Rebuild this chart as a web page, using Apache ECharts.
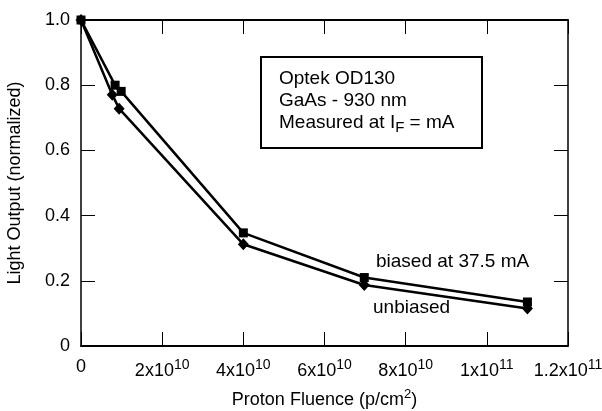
<!DOCTYPE html>
<html>
<head>
<meta charset="utf-8">
<script src="https://cdn.jsdelivr.net/npm/echarts@6/dist/echarts.min.js"></script>
<style>
html, body { margin: 0; padding: 0; background: #fff; }
#chart { width: 602px; height: 411px; }
</style>
</head>
<body>
<div id="chart"></div>
<script>
// tick values and labels
var xTicks = [0, 2e10, 4e10, 6e10, 8e10, 1e11, 1.2e11];
var xTickLabels = ['0', '2x10^10', '4x10^10', '6x10^10', '8x10^10', '1x10^11', '1.2x10^11'];
var yTicks = [0, 0.2, 0.4, 0.6, 0.8, 1.0];
var yTickLabels = ['0', '0.2', '0.4', '0.6', '0.8', '1.0'];

// biased at 37.5 mA (squares)
var biasedFluence = [0, 8.4e9, 9.9e9, 4.0e10, 6.98e10, 1.1e11];
var biasedOutput = [1.0, 0.80, 0.781, 0.347, 0.210, 0.135];
// unbiased (diamonds)
var unbiasedFluence = [0, 7.7e9, 9.4e9, 4.0e10, 6.98e10, 1.1e11];
var unbiasedOutput = [1.0, 0.771, 0.728, 0.312, 0.187, 0.115];

var FONT = 'Liberation Sans, Arial, sans-serif';

function pairs(xs, ys) {
    var out = [];
    for (var i = 0; i < xs.length; i++) {
        out.push([xs[i], ys[i]]);
    }
    return out;
}

function xLabel(value) {
    var idx = xTicks.indexOf(value);
    if (idx < 0) return '';
    var parts = xTickLabels[idx].split('^');
    if (parts.length < 2) return parts[0];
    return parts[0] + '{sup|' + parts[1] + '}';
}

function yLabel(value) {
    for (var i = 0; i < yTicks.length; i++) {
        if (Math.abs(yTicks[i] - value) < 1e-9) return yTickLabels[i];
    }
    return '';
}

var dom = document.getElementById('chart');
var chart = echarts.init(dom, null, { renderer: 'canvas' });

var option = {
    backgroundColor: '#fff',
    animation: false,
    textStyle: { fontFamily: FONT, color: '#000' },
    grid: {
        left: 81,
        right: 34,
        top: 20,
        bottom: 65,
        containLabel: false,
        outerBoundsMode: 'none'
    },
    xAxis: [{
            type: 'value',
            position: 'bottom',
            min: 0,
            max: 1.2e11,
            interval: 2e10,
            name: 'Proton Fluence (p/cm{sup|2})',
            nameLocation: 'middle',
            nameGap: 42,
            nameTextStyle: {
                fontSize: 18,
                color: '#000',
                fontFamily: FONT,
                rich: {
                    sup: { fontSize: 13, padding: [0, 0, 12, 0], fontFamily: FONT, color: '#000' }
                }
            },
            axisLine: { show: true, onZero: false, lineStyle: { color: '#000', width: 2 } },
            axisTick: { show: true, inside: true, length: 14, lineStyle: { color: '#000', width: 1 } },
            axisLabel: {
                margin: 12,
                fontSize: 18,
                color: '#000',
                fontFamily: FONT,
                formatter: xLabel,
                rich: {
                    sup: { fontSize: 14, padding: [0, 0, 12, 0], fontFamily: FONT, color: '#000' }
                }
            },
            splitLine: { show: false }
        },
        {
            type: 'value',
            position: 'top',
            min: 0,
            max: 1.2e11,
            interval: 2e10,
            axisLine: { show: true, onZero: false, lineStyle: { color: '#000', width: 2 } },
            axisTick: { show: true, inside: true, length: 14, lineStyle: { color: '#000', width: 1 } },
            axisLabel: { show: false },
            splitLine: { show: false }
        }
    ],
    yAxis: [{
            type: 'value',
            position: 'left',
            min: 0,
            max: 1.0,
            interval: 0.2,
            name: 'Light Output (normalized)',
            nameLocation: 'middle',
            nameGap: 57,
            nameTextStyle: { fontSize: 18, color: '#000', fontFamily: FONT },
            axisLine: { show: true, onZero: false, lineStyle: { color: '#000', width: 1.5 } },
            axisTick: { show: true, inside: true, length: 14, lineStyle: { color: '#000', width: 1 } },
            axisLabel: {
                margin: 11,
                fontSize: 18,
                color: '#000',
                fontFamily: FONT,
                formatter: yLabel
            },
            splitLine: { show: false }
        },
        {
            type: 'value',
            position: 'right',
            min: 0,
            max: 1.0,
            interval: 0.2,
            axisLine: { show: true, onZero: false, lineStyle: { color: '#000', width: 1.5 } },
            axisTick: { show: true, inside: true, length: 14, lineStyle: { color: '#000', width: 1 } },
            axisLabel: { show: false },
            splitLine: { show: false }
        }
    ],
    series: [{
            name: 'biased at 37.5 mA',
            type: 'line',
            data: pairs(biasedFluence, biasedOutput),
            symbol: 'rect',
            symbolSize: 9,
            showAllSymbol: true,
            color: '#000',
            itemStyle: { color: '#000' },
            lineStyle: { color: '#000', width: 2.5 },
            z: 5
        },
        {
            name: 'unbiased',
            type: 'line',
            data: pairs(unbiasedFluence, unbiasedOutput),
            symbol: 'diamond',
            symbolSize: [11, 12],
            showAllSymbol: true,
            color: '#000',
            itemStyle: { color: '#000' },
            lineStyle: { color: '#000', width: 2.5 },
            z: 5
        }
    ],
    graphic: [{
            type: 'rect',
            shape: { x: 261, y: 57, width: 221, height: 91 },
            style: { fill: '#fff', stroke: '#000', lineWidth: 2 },
            z: 10
        },
        {
            type: 'text',
            x: 279,
            y: 79,
            style: { text: 'Optek OD130', font: '19px ' + FONT, fill: '#000', verticalAlign: 'middle' },
            z: 11
        },
        {
            type: 'text',
            x: 279,
            y: 101,
            style: { text: 'GaAs - 930 nm', font: '19px ' + FONT, fill: '#000', verticalAlign: 'middle' },
            z: 11
        },
        {
            type: 'text',
            x: 279,
            y: 123,
            style: {
                text: 'Measured at I{sub|F} = mA',
                font: '19px ' + FONT,
                fill: '#000',
                verticalAlign: 'middle',
                rich: {
                    sub: { fontSize: 15, fontFamily: FONT, fill: '#000', padding: [10, 0, 0, 0] }
                }
            },
            z: 11
        },
        {
            type: 'text',
            x: 376,
            y: 262,
            style: { text: 'biased at 37.5 mA', font: '19px ' + FONT, fill: '#000', verticalAlign: 'middle' },
            z: 11
        },
        {
            type: 'text',
            x: 373,
            y: 308,
            style: { text: 'unbiased', font: '19px ' + FONT, fill: '#000', verticalAlign: 'middle' },
            z: 11
        }
    ]
};

chart.setOption(option);
window.addEventListener('resize', function() {
    chart.resize();
});
</script>
</body>
</html>
